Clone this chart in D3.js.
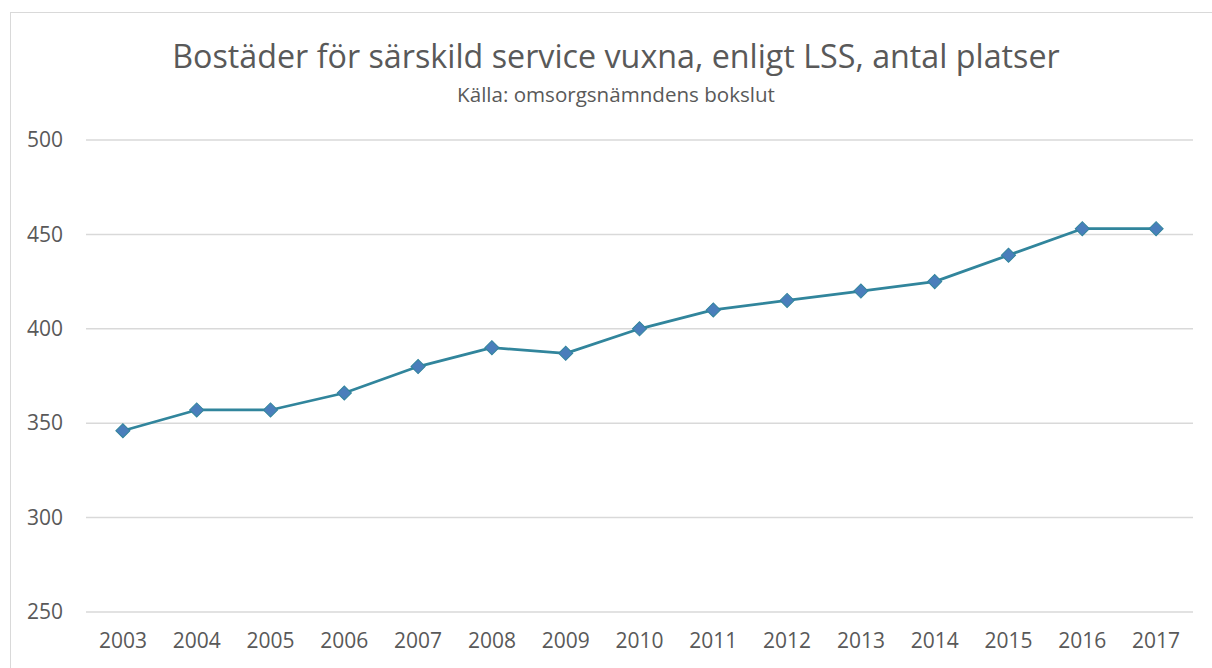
<!DOCTYPE html>
<html>
<head>
<meta charset="utf-8">
<script src="https://cdn.jsdelivr.net/npm/d3@7"></script>
<style>
  body { margin: 0; background: #fff; }
  svg text { font-family: "Open Sans", sans-serif; fill: #595959; }
</style>
</head>
<body>
<div id="chart"></div>
<script>
// Chart data
const years = ["2003", "2004", "2005", "2006", "2007", "2008", "2009", "2010",
  "2011", "2012", "2013", "2014", "2015", "2016", "2017"];
const platser = [346, 357, 357, 366, 380, 390, 387, 400, 410, 415, 420, 425, 439, 453, 453];
const yTicks = [250, 300, 350, 400, 450, 500];

const width = 1212, height = 668;

const svg = d3.select("#chart")
  .append("svg")
  .attr("width", width)
  .attr("height", height);

// Outer chart frame (right/bottom run off the picture)
svg.append("rect")
  .attr("x", 10.5)
  .attr("y", 12.5)
  .attr("width", 1220)
  .attr("height", 700)
  .attr("fill", "none")
  .attr("stroke", "#d9d9d9")
  .attr("stroke-width", 1);

// Scales
const x = d3.scaleBand()
  .domain(years)
  .range([86, 1193]);

const y = d3.scaleLinear()
  .domain([250, 500])
  .range([612, 140]);

// Gridlines
svg.append("g")
  .selectAll("line")
  .data(yTicks)
  .enter()
  .append("line")
  .attr("x1", 86)
  .attr("x2", 1193)
  .attr("y1", d => y(d))
  .attr("y2", d => y(d))
  .attr("stroke", "#d9d9d9")
  .attr("stroke-width", 1.5);

// Y axis labels
const yAxis = d3.axisLeft(y).tickValues(yTicks).tickSize(0).tickPadding(0);
svg.append("g")
  .attr("transform", "translate(63,0)")
  .call(yAxis)
  .call(g => g.select(".domain").remove())
  .selectAll("text")
  .style("font-size", "21px")
  .attr("fill", "#595959");

// X axis labels
const xAxis = d3.axisBottom(x).tickSize(0).tickPadding(0);
svg.append("g")
  .attr("transform", "translate(0,633)")
  .call(xAxis)
  .call(g => g.select(".domain").remove())
  .selectAll("text")
  .style("font-size", "21px")
  .attr("fill", "#595959");

// Line
const line = d3.line()
  .x((d, i) => x(years[i]) + x.bandwidth() / 2)
  .y(d => y(d));

svg.append("path")
  .datum(platser)
  .attr("d", line)
  .attr("fill", "none")
  .attr("stroke", "#31859c")
  .attr("stroke-width", 2.75)
  .attr("stroke-linejoin", "round");

// Diamond markers
svg.append("g")
  .selectAll("path")
  .data(platser)
  .enter()
  .append("path")
  .attr("transform", (d, i) => `translate(${x(years[i]) + x.bandwidth() / 2},${y(d)}) rotate(45)`)
  .attr("d", "M-5,-5H5V5H-5Z")
  .attr("fill", "#4a7ebb")
  .attr("stroke", "#31859c")
  .attr("stroke-width", 1);

// Fit a text element to a target width by adjusting its font size
function fitWidth(sel, target) {
  const node = sel.node();
  const size = parseFloat(sel.style("font-size"));
  const w = node.getComputedTextLength();
  sel.style("font-size", (size * target / w) + "px");
}

// Title and subtitle
const title = svg.append("text")
  .attr("x", 616)
  .attr("y", 68)
  .attr("text-anchor", "middle")
  .style("font-size", "30px")
  .text("Bostäder för särskild service vuxna, enligt LSS, antal platser");
fitWidth(title, 888);

const subtitle = svg.append("text")
  .attr("x", 616)
  .attr("y", 102)
  .attr("text-anchor", "middle")
  .style("font-size", "17px")
  .text("Källa: omsorgsnämndens bokslut");
fitWidth(subtitle, 318);
</script>
</body>
</html>
